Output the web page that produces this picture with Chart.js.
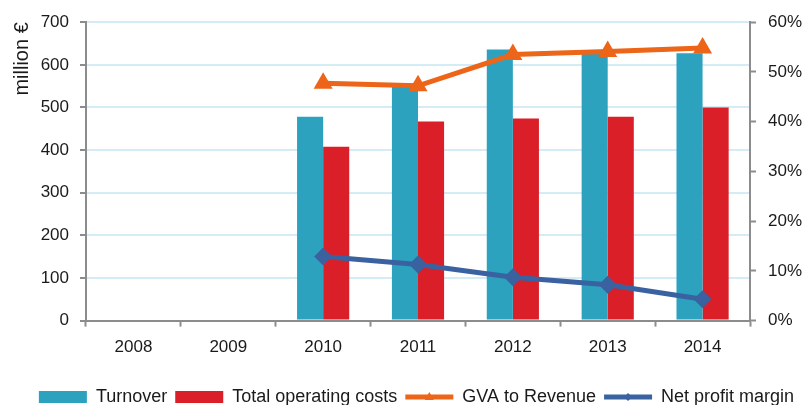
<!DOCTYPE html>
<html>
<head>
<meta charset="utf-8">
<script src="https://cdn.jsdelivr.net/npm/chart.js@4.4.0/dist/chart.umd.min.js"></script>
<style>
  html, body { margin: 0; padding: 0; background: #fff; }
  #wrap { width: 807px; height: 405px; }
</style>
</head>
<body>
<div id="wrap"><canvas id="chart" width="807" height="405"></canvas></div>
<script>
// Datos
const years = ['2008', '2009', '2010', '2011', '2012', '2013', '2014'];
const turnover = [null, null, 478, 548, 636, 629, 627];
const operatingCosts = [null, null, 408, 467, 474, 478, 500];
const gvaToRevenue = [null, null, 47.7, 47.2, 53.5, 54.1, 54.8];
const netProfitMargin = [null, null, 12.9, 11.3, 8.7, 7.2, 4.3];
const leftTicks = [0, 100, 200, 300, 400, 500, 600, 700];
const rightTicks = [0, 10, 20, 30, 40, 50, 60];

const FONT = "'Liberation Sans', Arial, sans-serif";
const AXIS_GREY = '#8c8c8c';
const GRID_BLUE = '#d4ecf5';

// Mover la leyenda para centrarla como en el original
const legendShift = {
  id: 'legendShift',
  afterLayout(chart) {
    const lg = chart.legend;
    if (!lg) return;
    lg.left += 13; lg.right += 13;
    lg.top += 11; lg.bottom += 11;
  }
};

// Marcadores pequeños sobre las líneas de la leyenda
const legendMarkers = {
  id: 'legendMarkers',
  afterDraw(chart) {
    const lg = chart.legend;
    if (!lg || !lg.legendHitBoxes) return;
    const ctx = chart.ctx;
    lg.legendItems.forEach((item, i) => {
      const ds = chart.data.datasets[item.datasetIndex];
      if (ds.type !== 'line') return;
      const hb = lg.legendHitBoxes[i];
      const bw = lg.options.labels.pointStyleWidth;
      const cx = hb.left + bw / 2;
      const cy = hb.top + hb.height / 2;
      ctx.save();
      ctx.fillStyle = ds.borderColor;
      ctx.beginPath();
      if (ds.pointStyle === 'triangle') {
        ctx.moveTo(cx, cy - 5);
        ctx.lineTo(cx + 4.5, cy + 3);
        ctx.lineTo(cx - 4.5, cy + 3);
      } else {
        ctx.moveTo(cx, cy - 4);
        ctx.lineTo(cx + 4, cy);
        ctx.lineTo(cx, cy + 4);
        ctx.lineTo(cx - 4, cy);
      }
      ctx.closePath();
      ctx.fill();
      ctx.restore();
    });
  }
};

const ctx = document.getElementById('chart').getContext('2d');
new Chart(ctx, {
  data: {
    labels: years,
    datasets: [
      {
        type: 'bar',
        label: 'Turnover',
        data: turnover,
        backgroundColor: '#2ca2bf',
        borderWidth: 0,
        pointStyle: 'rect',
        yAxisID: 'y',
        order: 2,
        categoryPercentage: 0.55,
        barPercentage: 1.0
      },
      {
        type: 'bar',
        label: 'Total operating costs',
        data: operatingCosts,
        backgroundColor: '#da1f28',
        borderWidth: 0,
        pointStyle: 'rect',
        yAxisID: 'y',
        order: 2,
        categoryPercentage: 0.55,
        barPercentage: 1.0
      },
      {
        type: 'line',
        label: 'GVA to Revenue',
        data: gvaToRevenue,
        borderColor: '#ec6518',
        backgroundColor: '#ec6518',
        borderWidth: 5,
        pointStyle: 'triangle',
        pointRadius: 11,
        pointBorderWidth: 0,
        yAxisID: 'y1',
        order: 0
      },
      {
        type: 'line',
        label: 'Net profit margin',
        data: netProfitMargin,
        borderColor: '#3a62a0',
        backgroundColor: '#3a62a0',
        borderWidth: 5,
        pointStyle: 'rectRot',
        pointRadius: 9,
        pointBorderWidth: 0,
        yAxisID: 'y1',
        order: 1
      }
    ]
  },
  plugins: [legendShift, legendMarkers],
  options: {
    responsive: false,
    animation: false,
    layout: { padding: { top: 10, left: 0, right: 0, bottom: 0 } },
    plugins: {
      tooltip: { enabled: false },
      legend: {
        position: 'bottom',
        labels: {
          usePointStyle: true,
          pointStyleWidth: 48,
          boxHeight: 12,
          padding: 8,
          color: '#1a1a1a',
          font: { family: FONT, size: 18 },
          sort: (a, b) => a.datasetIndex - b.datasetIndex,
          generateLabels(chart) {
            const items = Chart.defaults.plugins.legend.labels.generateLabels(chart);
            items.forEach(it => {
              const ds = chart.data.datasets[it.datasetIndex];
              if (ds.type === 'line') {
                it.pointStyle = 'line';
                it.lineWidth = 5;
                it.strokeStyle = ds.borderColor;
              } else {
                it.pointStyle = 'rect';
                it.lineWidth = 0;
              }
            });
            return items;
          }
        }
      }
    },
    scales: {
      x: {
        offset: true,
        border: { color: AXIS_GREY, width: 2 },
        grid: { offset: true, drawOnChartArea: false, tickLength: 6, tickColor: AXIS_GREY, tickWidth: 2 },
        ticks: { color: '#1a1a1a', padding: 11, font: { family: FONT, size: 17 } }
      },
      y: {
        position: 'left',
        min: 0,
        max: 700,
        afterBuildTicks: scale => { scale.ticks = leftTicks.map(v => ({ value: v })); },
        afterFit: scale => { scale.width = 86; },
        border: { color: AXIS_GREY, width: 2 },
        grid: { color: GRID_BLUE, lineWidth: 2, tickLength: 6, tickColor: AXIS_GREY, tickWidth: 2 },
        ticks: { color: '#1a1a1a', padding: 11, font: { family: FONT, size: 17 } },
        title: {
          display: true,
          text: 'million €',
          align: 'end',
          color: '#1a1a1a',
          padding: { top: 10, bottom: 0 },
          font: { family: FONT, size: 20 }
        }
      },
      y1: {
        position: 'right',
        min: 0,
        max: 60,
        afterBuildTicks: scale => { scale.ticks = rightTicks.map(v => ({ value: v })); },
        afterFit: scale => { scale.width = 57; },
        border: { color: AXIS_GREY, width: 2 },
        grid: { drawOnChartArea: false, tickLength: 6, tickColor: AXIS_GREY, tickWidth: 2 },
        ticks: { color: '#1a1a1a', padding: 12, font: { family: FONT, size: 17 }, callback: v => v + '%' }
      }
    }
  }
});
</script>
</body>
</html>
